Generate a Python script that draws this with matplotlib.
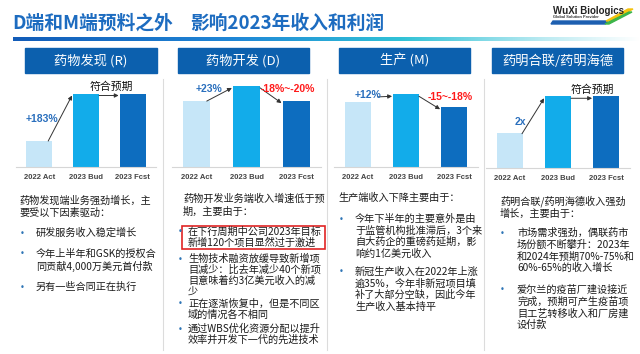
import numpy as np
import matplotlib
matplotlib.use('Agg')
import matplotlib.pyplot as plt
from matplotlib.patches import Rectangle, Polygon
from matplotlib.colors import LinearSegmentedColormap

plt.rcParams['font.family'] = ['Noto Sans CJK SC', 'DejaVu Sans']

W, H = 640, 354

# data (revenue index, 2022 Act = 1)
categories = ['2022 Act', '2023 Bud', '2023 Fcst']
panel_titles = ['药物发现 (R)', '药物开发 (D)', '生产 (M)', '药明合联/药明海德']
discovery = [1.0, 2.83, 2.83]
development = [1.0, 1.23, 1.0]
manufacturing = [1.0, 1.12, 0.92]
xdc = [1.0, 2.03, 2.03]
growth_labels = ['+183%', '+23%', '+12%', '2x']
change_labels = ['符合预期', '-18%~-20%', '-15~-18%', '符合预期']

intro_texts = [
    ['药物发现端业务强劲增长，主', '要受以下因素驱动：'],
    ['药物开发业务端收入增速低于预', '期，主要由于：'],
    ['生产端收入下降主要由于：'],
    ['药明合联/药明海德收入强劲', '增长，主要由于：'],
]
bullet_texts = [
    [['研发服务收入稳定增长'],
     ['今年上半年和GSK的授权合', '同贡献4,000万美元首付款'],
     ['另有一些合同正在执行']],
    [['在下行周期中公司2023年目标', '新增120个项目显然过于激进'],
     ['生物技术融资放缓导致新增项', '目减少：比去年减少40个新项', '目意味着约3亿美元收入的减', '少'],
     ['正在逐渐恢复中，但是不同区', '域的情况各不相同'],
     ['通过WBS优化资源分配以提升', '效率并开发下一代的先进技术']],
    [['今年下半年的主要意外是由', '于监管机构批准滞后，3个来', '自大药企的重磅药延期，影', '响约1亿美元收入'],
     ['新冠生产收入在2022年上涨', '逾35%，今年非新冠项目填', '补了大部分空缺，因此今年', '生产收入基本持平']],
    [['市场需求强劲，偶联药市', '场份额不断攀升：2023年', '和2024年预期70%-75%和', '60%-65%的收入增长'],
     ['爱尔兰的疫苗厂建设接近', '完成，预期可产生疫苗项', '目工艺转移收入和厂房建', '设付款']],
]

series = [discovery, development, manufacturing, xdc]
bar_colors = ['#c6e6f8', '#12acea', '#0d6dbf']
blue_txt = '#2a6fbd'
red_txt = '#ff1a1a'

fig = plt.figure(figsize=(6.4, 3.54), dpi=100)
bg = fig.add_axes([0, 0, 1, 1])
bg.set_xlim(0, W)
bg.set_ylim(H, 0)
bg.axis('off')

# title + gradient rule
bg.text(12, 23, 'D端和M端预料之外', fontsize=13.5,
        fontweight='bold', color='#1d6cc0', va='center', ha='left')
bg.text(190, 23, '影响2023年收入和利润', fontsize=13.5,
        fontweight='bold', color='#1d6cc0', va='center', ha='left')
cmap = LinearSegmentedColormap.from_list('rule', [
    (0, '#125cb8'), (0.35, '#1f86d6'), (0.62, '#30c2d6'), (0.85, '#bdebf2'), (1, '#ffffff')])
grad = np.linspace(0, 1, 256).reshape(1, -1)
bg.imshow(grad, cmap=cmap, extent=[13, 640, 41, 37], aspect='auto')
bg.set_xlim(0, W)
bg.set_ylim(H, 0)

# logo
bg.text(553, 11, 'WuXi Biologics', fontsize=7, fontweight='bold', color='#222222',
        family='Liberation Sans', va='center')
bg.text(553, 17.5, 'Global Solution Provider', fontsize=2.8, fontweight='bold',
        color='#333333', family='Liberation Sans', va='center')
bg.add_patch(Polygon([(553, 21), (608, 21), (605, 24), (551, 24)], color='#1d5fb0'))
bg.add_patch(Polygon([(606, 21), (628, 9), (633, 9), (611, 21)], color='#f4c20d'))
bg.add_patch(Polygon([(605, 24), (629, 12), (632, 12), (609, 24)], color='#3db54a'))

# panel headers
headers = [(25, 157), (178, 309), (339, 470), (492, 623)]
for (x0, x1), t in zip(headers, panel_titles):
    bg.add_patch(Rectangle((x0, 48), x1 - x0, 25, color='#0c60ae'))
    bg.text((x0 + x1) / 2, 61, t, color='white', fontsize=9.5, ha='center', va='center')

# separators
for x in [163, 327, 484]:
    bg.plot([x, x], [79, 350], color='#dcdcdc', lw=0.8)

# bar panels: axes rect in pixels (left, right, baseline)
axes_px = [(16, 156, 167), (172, 321, 167), (334, 478, 167), (486, 630, 168)]
ytops = [3.35, 1.32, 1.34, 2.49]
widths = [0.56, 0.55, 0.54, 0.54]
growth_pos = [(0.06, 1.85), (0.245, 1.18), (0.2, 1.11), (0.21, 1.31)]
growth_start = [(0.19, 1.0), (0.2, 1.0), (0.42, 1.08), (0.25, 0.97)]
change_pos = [(1.55, 3.08), (1.84, 1.18), (1.92, 1.08), (1.72, 2.22)]

for i, vals in enumerate(series):
    l, r, b = axes_px[i]
    ax = fig.add_axes([l / W, 1 - b / H, (r - l) / W, (b - 80) / H])
    ax.patch.set_visible(False)
    w = widths[i]
    ax.bar(range(3), vals, width=w, color=bar_colors)
    ax.set_xlim(-0.5, 2.5)
    ax.set_ylim(0, ytops[i])
    ax.set_yticks([])
    ax.set_xticks(range(3), categories, fontsize=5.5, fontweight='bold',
                  color='#444444', family='Liberation Sans')
    ax.tick_params(axis='x', length=0, pad=5)
    for s in ['top', 'left', 'right']:
        ax.spines[s].set_visible(False)
    ax.spines['bottom'].set_color('#d6d6d6')
    ax.spines['bottom'].set_linewidth(0.8)

    unit = ytops[i] / 87.0
    arrow = dict(arrowstyle='-|>', color='#333333', lw=0.7, mutation_scale=6,
                 shrinkA=0, shrinkB=0)
    # growth 2022 -> 2023 Bud
    ax.annotate('', xy=(1 - w / 2 - 0.02, vals[1] - 2 * unit), xytext=growth_start[i],
                arrowprops=arrow)
    ax.text(*growth_pos[i], growth_labels[i], color=blue_txt, fontsize=7.5,
            fontweight='bold', ha='center', va='center', family='Liberation Sans')
    # Bud -> Fcst
    ax.annotate('', xy=(2 - w / 2 - 0.02, vals[2] - 2 * unit),
                xytext=(1 + w / 2, vals[1] - 2 * unit), arrowprops=arrow)
    if change_labels[i] == '符合预期':
        ax.text(*change_pos[i], change_labels[i], color='#111111', fontsize=7.8,
                fontweight='medium', ha='center', va='center')
    else:
        ax.text(*change_pos[i], change_labels[i], color=red_txt, fontsize=7.5,
                fontweight='bold', ha='center', va='center', family='Liberation Sans')

# commentary text
intro_x = [19, 183, 338, 500]
dot_x = [22, 180, 341, 502]
txt_x = [36, 188, 355, 517]
intro_y = [200, 199, 198, 201]
bullet_y = [[233, 254, 287], [232, 259, 304, 329], [219, 272], [233, 290]]
steps = [12.5, 10.8, 11.5, 11.7]
fs = 7.3
for i in range(4):
    for k, line in enumerate(intro_texts[i]):
        bg.text(intro_x[i], intro_y[i] + k * 12.8, line, fontsize=fs, color='#1a1a1a',
                va='center', ha='left')
    for y0, lines in zip(bullet_y[i], bullet_texts[i]):
        bg.text(dot_x[i], y0, '•', fontsize=6, color='#2e75b6', va='center', ha='center',
                family='DejaVu Sans')
        for k, line in enumerate(lines):
            bg.text(txt_x[i], y0 + k * steps[i], line, fontsize=fs, color='#1a1a1a',
                    va='center', ha='left')

# highlight box
bg.add_patch(Rectangle((182, 226), 143, 23, fill=False, edgecolor='#e02424', lw=1.2))

fig.savefig('out.png', dpi=100)
